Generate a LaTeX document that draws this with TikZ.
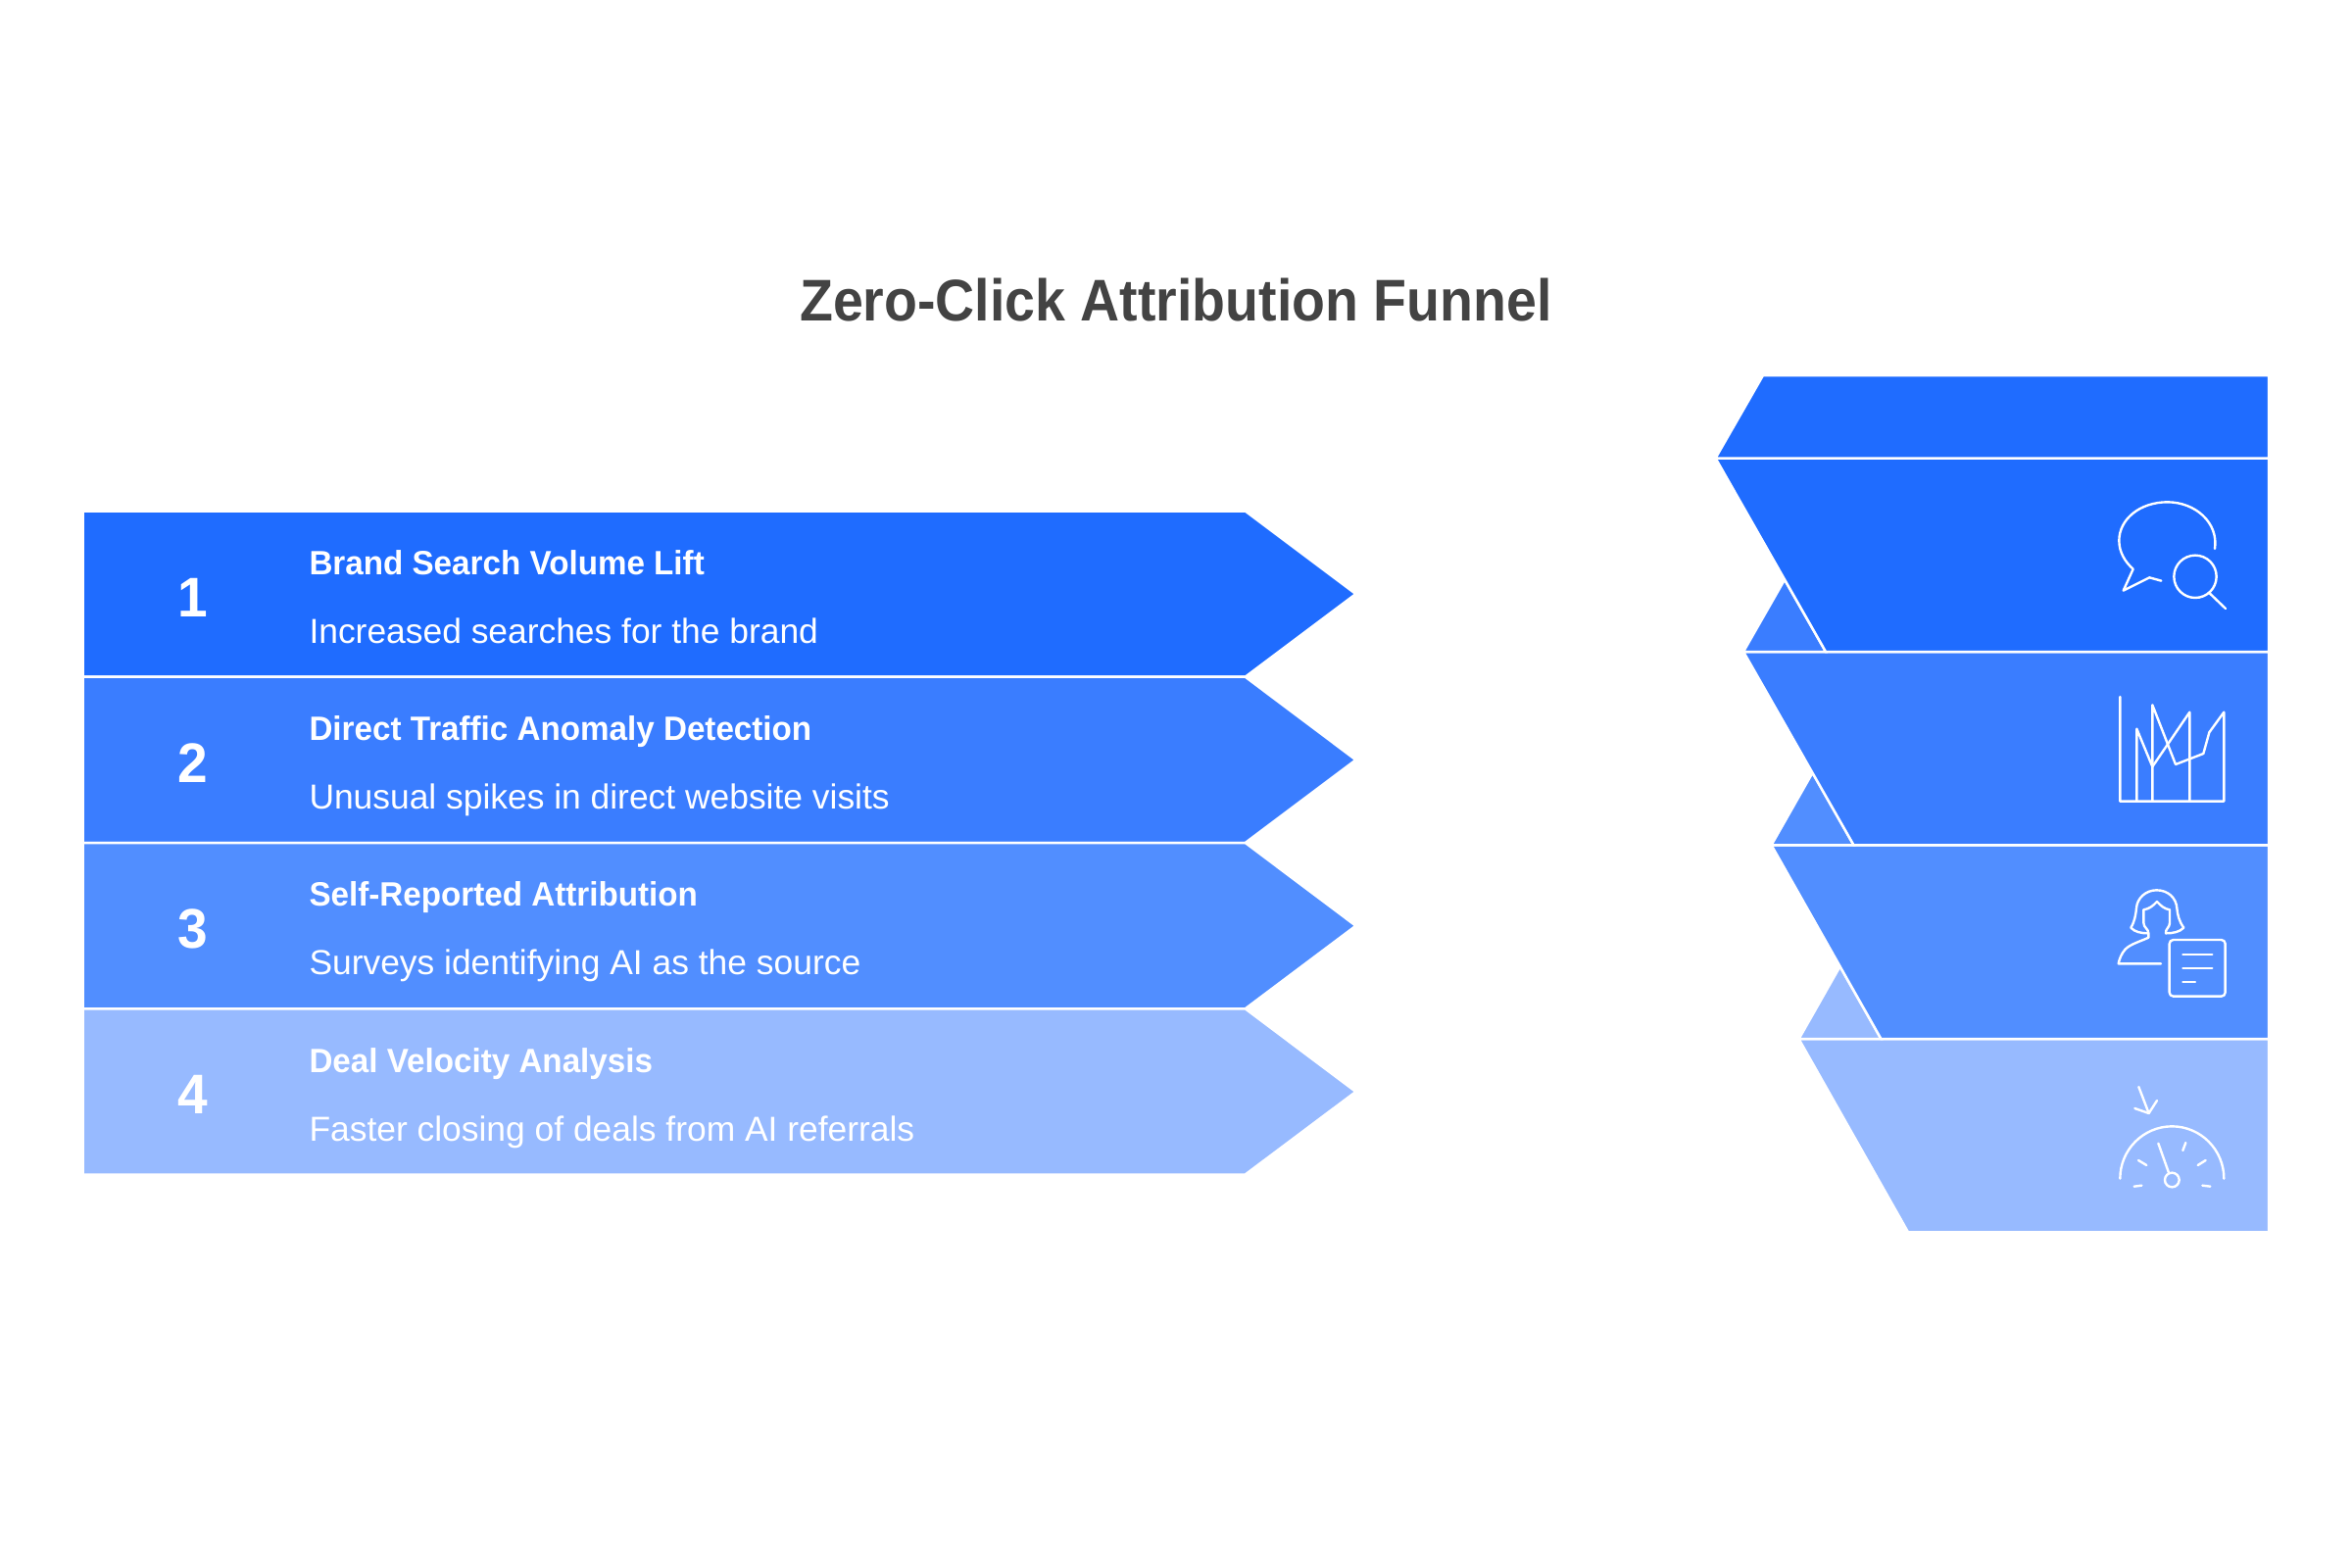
\documentclass[tikz,border=0pt]{standalone}
\usepackage{fontspec}
\setmainfont{Liberation Sans}[BoldFeatures={FakeStretch=0.965}]
\newfontfamily\titlefont{Liberation Sans Bold}[FakeStretch=0.925]
\definecolor{rowa}{HTML}{1F6CFF}
\definecolor{rowb}{HTML}{3A7DFF}
\definecolor{rowc}{HTML}{518EFF}
\definecolor{rowd}{HTML}{97BAFF}
\definecolor{titlegray}{HTML}{434343}
\tikzset{
  band/.style={draw=white,line width=1.25pt,line join=miter},
  icon/.style={draw=white,line width=1.2pt,line cap=round,line join=round},
  tx/.style={inner sep=0pt,outer sep=0pt,anchor=base west,text=white},
  headtx/.style={tx,font=\fontsize{17.2}{20}\selectfont\bfseries},
  desctx/.style={tx,font=\fontsize{17.7}{20}\selectfont},
  numtx/.style={inner sep=0pt,outer sep=0pt,anchor=base,text=white,font=\fontsize{28.5}{32}\selectfont\bfseries},
  iconscope/.style={shift={#1},scale=0.33333}
}
\begin{document}
\begin{tikzpicture}[x=0.5pt,y=-0.5pt]
\useasboundingbox (0,0) rectangle (2400,1600);
\fill[white] (0,0) rectangle (2400,1600);

\node[inner sep=0pt,anchor=base,text=titlegray,font=\fontsize{30}{36}\selectfont\titlefont] (title) at (1200,327) {Zero-Click Attribution Funnel};

% left arrows
\draw[band,fill=rowa] (84.5,521.5) -- (1270.7,521.5) -- (1383.5,606.1) -- (1270.7,690.7) -- (84.5,690.7) -- cycle;
\draw[band,fill=rowb] (84.5,690.7) -- (1270.7,690.7) -- (1383.5,775.4) -- (1270.7,860) -- (84.5,860) -- cycle;
\draw[band,fill=rowc] (84.5,860) -- (1270.7,860) -- (1383.5,944.7) -- (1270.7,1029.3) -- (84.5,1029.3) -- cycle;
\draw[band,fill=rowd] (84.5,1029.3) -- (1270.7,1029.3) -- (1383.5,1114) -- (1270.7,1198.5) -- (84.5,1198.5) -- cycle;

\node[numtx] (n1) at (197,629) {1};
\node[numtx] (n2) at (197,798.3) {2};
\node[numtx] (n3) at (197,967.6) {3};
\node[numtx] (n4) at (197,1136.9) {4};

\node[headtx] (h1) at (315.5,586.2) {Brand Search Volume Lift};
\node[desctx] (d1) at (315.5,656.2) {Increased searches for the brand};
\node[headtx] (h2) at (315.5,755.5) {Direct Traffic Anomaly Detection};
\node[desctx] (d2) at (315.5,825.5) {Unusual spikes in direct website visits};
\node[headtx] (h3) at (315.5,924.8) {Self-Reported Attribution};
\node[desctx] (d3) at (315.5,994.8) {Surveys identifying AI as the source};
\node[headtx] (h4) at (315.5,1094.1) {Deal Velocity Analysis};
\node[desctx] (d4) at (315.5,1164.1) {Faster closing of deals from AI referrals};

% right funnel, bottom first
\draw[band,fill=rowd] (1835.5,1060.2) -- (2315,1060.2) -- (2315,1257.3) -- (1947,1257.3) -- cycle;
\draw[band,fill=rowd] (1835.5,1060.2) -- (1877.5,986.2) -- (1919.5,1060.2) -- cycle;
\draw[band,fill=rowc] (1807.5,862.3) -- (2315,862.3) -- (2315,1060.2) -- (1919.5,1060.2) -- cycle;
\draw[band,fill=rowc] (1807.5,862.3) -- (1849.5,788.5) -- (1891.5,862.3) -- cycle;
\draw[band,fill=rowb] (1779,665) -- (2315,665) -- (2315,862.3) -- (1891.5,862.3) -- cycle;
\draw[band,fill=rowb] (1779,665) -- (1821,591.5) -- (1863,665) -- cycle;
\draw[band,fill=rowa] (1750.5,467.5) -- (2315,467.5) -- (2315,665) -- (1863,665) -- cycle;
\draw[band,fill=rowa] (1750.5,467.5) -- (1799,383) -- (2315,383) -- (2315,467.5) -- cycle;

% speech bubble + magnifier
\begin{scope}[iconscope={(2120,490)}]
\draw[icon] (420,210) .. controls (432,130) and (360,67) .. (275,67)
  .. controls (190,67) and (127,120) .. (127,185)
  .. controls (127,220) and (145,250) .. (170,272)
  -- (140,338) -- (220,298) -- (256,308);
\draw[icon] (360,295) circle[radius=65];
\draw[icon] (403,345) -- (453,393);
\end{scope}

% chart
\begin{scope}[iconscope={(2150,695)}]
\draw[icon] (40,48) -- (40,368) -- (358,368) -- (358,95) -- (313,157) -- (295,222) -- (210,255) -- (139,73) -- (139,368);
\draw[icon] (91,368) -- (91,146) -- (139,262) -- (253,95) -- (253,368);
\end{scope}

% person with form
\begin{scope}[iconscope={(2150,895)}]
\draw[icon] (125,172) .. controls (105,172) and (85,168) .. (73,155)
  .. controls (85,135) and (88,115) .. (90,95)
  .. controls (92,65) and (118,40) .. (152,40)
  .. controls (188,40) and (212,65) .. (214,95)
  .. controls (216,115) and (220,135) .. (235,155)
  .. controls (222,168) and (202,172) .. (180,172)
  .. controls (178,158) and (192,155) .. (192,140)
  -- (192,100) .. controls (175,97) and (165,88) .. (153,75)
  .. controls (141,88) and (130,97) .. (112,100)
  -- (112,140) .. controls (112,155) and (127,158) .. (127,172)
  -- (127,185) .. controls (105,196) and (70,205) .. (55,222)
  .. controls (44,235) and (38,250) .. (35,265) -- (165,265);
\draw[icon,rounded corners=2pt] (191,192) rectangle (362,365);
\draw[icon] (232,237) -- (322,237);
\draw[icon] (232,279) -- (322,279);
\draw[icon] (232,321) -- (270,321);
\end{scope}

% gauge
\begin{scope}[iconscope={(2150,1095)}]
\draw[icon] (97,42) -- (128,123);
\draw[icon] (85,108) -- (128,123) -- (153,84);
\draw[icon] (40,323) .. controls (40,235) and (111,163) .. (199,163)
  .. controls (287,163) and (358,235) .. (358,323);
\draw[icon] (157,215) -- (189,305);
\draw[icon] (199,327) circle[radius=22];
\draw[icon] (232,237) -- (241,213);
\draw[icon] (96,267) -- (121,282);
\draw[icon] (302,267) -- (278,282);
\draw[icon] (83,347) -- (106,344);
\draw[icon] (292,344) -- (316,347);
\end{scope}
\end{tikzpicture}
\end{document}
